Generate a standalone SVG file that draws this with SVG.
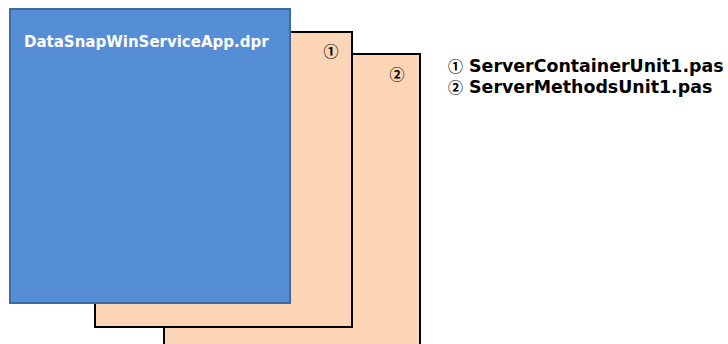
<svg xmlns="http://www.w3.org/2000/svg" width="728" height="344" viewBox="0 0 728 344">
  <style>
    .page { fill: #FBD5B5; stroke: #000000; stroke-width: 2; }
    .main { fill: #558ED5; stroke: #3E6A9E; stroke-width: 2; }
    .title { font-family: "DejaVu Sans", "Noto Sans CJK JP", sans-serif; font-weight: bold; font-size: 15px; fill: #FFFFFF; }
    .num { font-family: "Noto Sans CJK JP", sans-serif; font-weight: bold; font-size: 15px; fill: #000000; }
    .legend { font-family: "DejaVu Sans", "Noto Sans CJK JP", sans-serif; font-weight: bold; font-size: 17.4px; fill: #000000; }
  </style>
  <rect width="728" height="344" fill="#FFFFFF"/>
  <!-- back page: ServerMethodsUnit1.pas -->
  <g id="page2">
    <rect class="page" x="164" y="54" width="256" height="300"/>
    <text class="num" x="397" y="80" text-anchor="middle">②</text>
  </g>
  <!-- middle page: ServerContainerUnit1.pas -->
  <g id="page1">
    <rect class="page" x="95" y="32" width="257" height="295"/>
    <text class="num" x="331" y="57" text-anchor="middle">①</text>
  </g>
  <!-- front page: project file -->
  <g id="project">
    <rect class="main" x="10" y="9" width="280" height="294"/>
    <text class="title" x="24" y="47">DataSnapWinServiceApp.dpr</text>
  </g>
  <!-- key to the numbered pages -->
  <g id="legend">
    <text class="legend" x="448" y="72"><tspan class="num" font-size="17px">①</tspan> ServerContainerUnit1.pas</text>
    <text class="legend" x="448" y="93"><tspan class="num" font-size="17px">②</tspan> ServerMethodsUnit1.pas</text>
  </g>
</svg>
